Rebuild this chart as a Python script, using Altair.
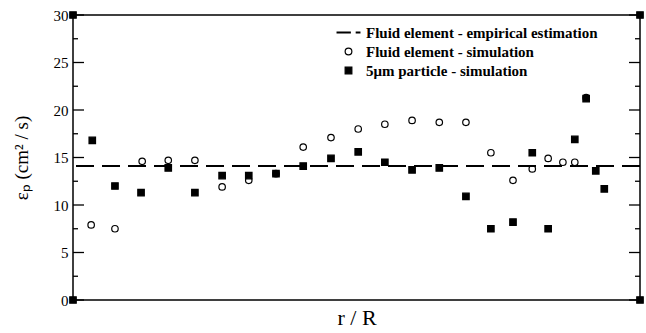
import altair as alt
import pandas as pd

# ---- data ----
circle_x = [0.032, 0.074, 0.122, 0.168, 0.215, 0.263, 0.310, 0.358, 0.406, 0.455, 0.503,
            0.550, 0.598, 0.646, 0.693, 0.737, 0.776, 0.810, 0.838, 0.864, 0.885, 0.905]
circle_y = [7.9, 7.5, 14.6, 14.7, 14.7, 11.9, 12.6, 13.3, 16.1, 17.1, 18.0,
            18.5, 18.9, 18.7, 18.7, 15.5, 12.6, 13.8, 14.9, 14.5, 14.5, 21.3]

square_x = [0.034, 0.074, 0.120, 0.168, 0.215, 0.263, 0.310, 0.358, 0.406, 0.455, 0.503, 0.550,
            0.598, 0.646, 0.693, 0.737, 0.776, 0.810, 0.838, 0.885, 0.905, 0.922, 0.937]
square_y = [16.8, 12.0, 11.3, 13.9, 11.3, 13.1, 13.1, 13.3, 14.1, 14.9, 15.6, 14.5,
            13.7, 13.9, 10.9, 7.5, 8.2, 15.5, 7.5, 16.9, 21.2, 13.6, 11.7]

corner_x = [0.0, 0.0, 1.0, 1.0]
corner_y = [0.0, 30.0, 0.0, 30.0]

empirical_value = [14.1]

major_ticks = [0, 5, 10, 15, 20, 25, 30]
minor_ticks = [2.5, 7.5, 12.5, 17.5, 22.5, 27.5]

labels = ["Fluid element - empirical estimation",
          "Fluid element - simulation",
          "5\u03bcm particle - simulation"]

# ---- tables ----
pts = pd.concat([
    pd.DataFrame({"x": circle_x, "y": circle_y, "series": labels[1]}),
    pd.DataFrame({"x": square_x, "y": square_y, "series": labels[2]}),
    pd.DataFrame({"x": corner_x, "y": corner_y, "series": labels[2]}),
], ignore_index=True)
emp = pd.DataFrame({"y": empirical_value})
maj = pd.DataFrame({"y": major_ticks})
mino = pd.DataFrame({"y": minor_ticks})

W, H = 567, 285
SERIF = "Liberation Serif"

xscale = alt.Scale(domain=[0, 1], nice=False, zero=False)
yscale = alt.Scale(domain=[0, 30], nice=False, zero=False)

# legend glyph "— -" for the dashed estimate line
dash_path = "M-3.57,-0.3H0.71V0.3H-3.57Z M2.14,-0.3H3.57V0.3H2.14Z"
leg = alt.Legend(title=None, orient="none", legendX=268, legendY=10,
                 labelFont=SERIF, labelFontSize=15, labelFontWeight="bold",
                 labelColor="black", rowPadding=3, labelOffset=10, labelLimit=0,
                 symbolSize=45, symbolStrokeWidth=1.2)

points = alt.Chart(pts).mark_point(filled=True, size=42, strokeWidth=1.2, opacity=1).encode(
    x=alt.X("x:Q", scale=xscale,
            axis=alt.Axis(title="r / R", labels=False, ticks=False, domain=False, grid=False,
                          titleFont=SERIF, titleFontSize=22, titleFontWeight="normal",
                          titleColor="black", titlePadding=7)),
    y=alt.Y("y:Q", scale=yscale,
            axis=alt.Axis(title="\u03b5\u209a (cm\u00b2 / s)", values=major_ticks, ticks=False,
                          domain=False, grid=False, labelFont=SERIF, labelFontSize=15,
                          labelColor="black", labelPadding=5,
                          titleFont=SERIF, titleFontSize=19, titleFontWeight="normal",
                          titleColor="black", titlePadding=22)),
    shape=alt.Shape("series:N", scale=alt.Scale(domain=labels, range=[dash_path, "circle", "square"]), legend=leg),
    fill=alt.Fill("series:N", scale=alt.Scale(domain=labels, range=["black", "transparent", "black"]), legend=leg),
    stroke=alt.Stroke("series:N", scale=alt.Scale(domain=labels, range=["transparent", "black", "black"]), legend=leg),
)

dashed = alt.Chart(emp).mark_rule(color="black", strokeWidth=2, strokeDash=[18, 8]).encode(
    y=alt.Y("y:Q", scale=yscale)
)

def ticks(df, x1, x2):
    return alt.Chart(df).mark_rule(color="black", strokeWidth=1.3).encode(
        y=alt.Y("y:Q", scale=yscale), x=alt.value(x1), x2=alt.value(x2))

chart = alt.layer(
    dashed,
    ticks(maj, 0, 11), ticks(maj, W - 11, W),
    ticks(mino, 0, 5), ticks(mino, W - 5, W),
    points,
).properties(
    width=W, height=H, autosize="none",
    padding={"left": 73, "top": 15, "right": 6, "bottom": 33},
    background="white",
).configure_view(
    stroke="black", strokeWidth=1.5
).configure_axis(
    labelFont=SERIF, titleFont=SERIF
).configure_legend(
    labelFont=SERIF
)

chart.save("out.html", embed_options={"renderer": "svg", "actions": False})
